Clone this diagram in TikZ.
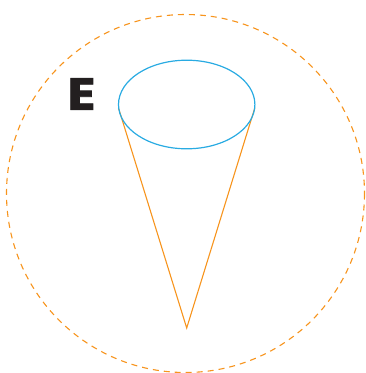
\documentclass[tikz,border=0pt]{standalone}
\usepackage{fontspec}
\newfontfamily\efont[FakeBold=1.5]{Poppins}
\definecolor{conor}{HTML}{F7941D}
\definecolor{ellblue}{HTML}{29ABE2}
\definecolor{eblack}{HTML}{231F20}
\begin{document}
\begin{tikzpicture}[x=1pt,y=-1pt,
  orangeline/.style={draw=conor,line width=1.1pt},
  outercircle/.style={draw=conor,line width=1.1pt,dash pattern=on 6pt off 5pt},
  topellipse/.style={draw=ellblue,line width=1.2pt},
  letter/.style={text=eblack,font=\efont\bfseries\fontsize{45}{45}\selectfont,inner sep=0pt,xscale=1.15}]
\useasboundingbox (0,0) rectangle (365,373);
\draw[outercircle] (185.5,193.5) circle (179);
\coordinate (L) at (118.5,108);
\coordinate (R) at (254.8,108);
\coordinate (apex) at (186.7,328);
\draw[orangeline,line join=miter] (L) -- (apex) -- (R);
\draw[topellipse] (186.7,104.5) ellipse (68.2 and 44.3);
\node[letter] (E) at (81.5,94) {E};
\end{tikzpicture}
\end{document}
